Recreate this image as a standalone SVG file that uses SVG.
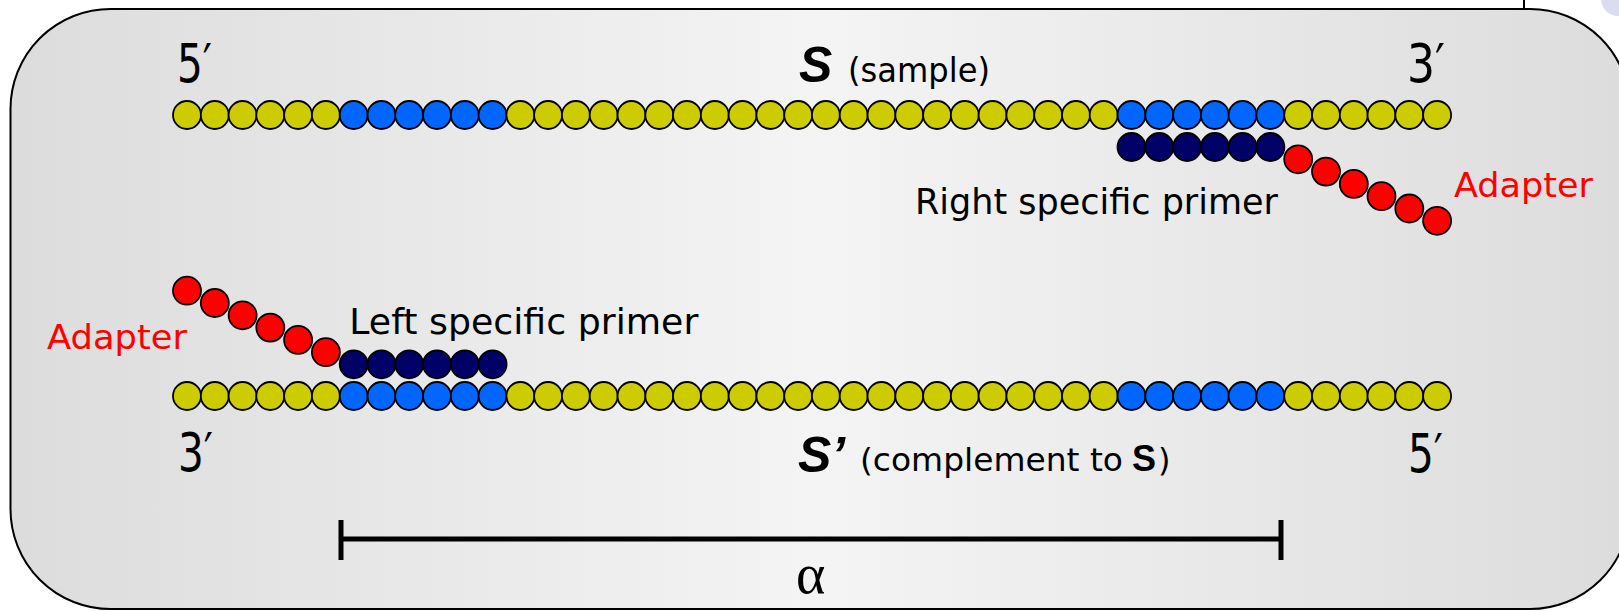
<svg xmlns="http://www.w3.org/2000/svg" width="1619" height="611" viewBox="0 0 1619 611">
<style>
.y{fill:#cccc00}.b{fill:#0066ff}.n{fill:#000066}.r{fill:#ff0000}
.comic{font-family:"DejaVu Sans","Noto Sans",sans-serif;fill:#000}
.red{fill:#ff0000}
.bi{font-family:"Liberation Sans",Arial,sans-serif;font-weight:bold;font-style:italic;fill:#000}
.end{font-family:"DejaVu Sans","Noto Sans",sans-serif;font-size:53px;fill:#000}
</style>
<defs>
<linearGradient id="bg" x1="0" y1="0" x2="1" y2="0">
<stop offset="0" stop-color="#dcdcdc"/>
<stop offset="0.5" stop-color="#f4f4f4"/>
<stop offset="1" stop-color="#dcdcdc"/>
</linearGradient>
<circle id="bd" r="14" stroke="#000" stroke-width="1.8"/>
</defs>
<rect width="1619" height="611" fill="#ffffff"/>
<g id="frame">
<line x1="1524" y1="0" x2="1524" y2="10" stroke="#000" stroke-width="2"/>
<circle cx="1618" cy="-1" r="17" fill="#dcdcf0"/>
<rect x="10.5" y="9" width="1619.5" height="600" rx="100" ry="100" fill="url(#bg)" stroke="#000" stroke-width="2"/>
</g>
<g id="strand-S">
<use href="#bd" class="y" x="187" y="115"/><use href="#bd" class="y" x="214.8" y="115"/><use href="#bd" class="y" x="242.6" y="115"/><use href="#bd" class="y" x="270.3" y="115"/><use href="#bd" class="y" x="298.1" y="115"/><use href="#bd" class="y" x="325.9" y="115"/>
<use href="#bd" class="b" x="353.7" y="115"/><use href="#bd" class="b" x="381.5" y="115"/><use href="#bd" class="b" x="409.2" y="115"/><use href="#bd" class="b" x="437" y="115"/><use href="#bd" class="b" x="464.8" y="115"/><use href="#bd" class="b" x="492.6" y="115"/>
<use href="#bd" class="y" x="520.4" y="115"/><use href="#bd" class="y" x="548.1" y="115"/><use href="#bd" class="y" x="575.9" y="115"/><use href="#bd" class="y" x="603.7" y="115"/><use href="#bd" class="y" x="631.5" y="115"/><use href="#bd" class="y" x="659.3" y="115"/><use href="#bd" class="y" x="687" y="115"/><use href="#bd" class="y" x="714.8" y="115"/><use href="#bd" class="y" x="742.6" y="115"/><use href="#bd" class="y" x="770.4" y="115"/><use href="#bd" class="y" x="798.2" y="115"/><use href="#bd" class="y" x="825.9" y="115"/><use href="#bd" class="y" x="853.7" y="115"/><use href="#bd" class="y" x="881.5" y="115"/><use href="#bd" class="y" x="909.3" y="115"/><use href="#bd" class="y" x="937.1" y="115"/><use href="#bd" class="y" x="964.8" y="115"/><use href="#bd" class="y" x="992.6" y="115"/><use href="#bd" class="y" x="1020.4" y="115"/><use href="#bd" class="y" x="1048.2" y="115"/><use href="#bd" class="y" x="1076" y="115"/><use href="#bd" class="y" x="1103.7" y="115"/>
<use href="#bd" class="b" x="1131.5" y="115"/><use href="#bd" class="b" x="1159.3" y="115"/><use href="#bd" class="b" x="1187.1" y="115"/><use href="#bd" class="b" x="1214.9" y="115"/><use href="#bd" class="b" x="1242.6" y="115"/><use href="#bd" class="b" x="1270.4" y="115"/>
<use href="#bd" class="y" x="1298.2" y="115"/><use href="#bd" class="y" x="1326" y="115"/><use href="#bd" class="y" x="1353.8" y="115"/><use href="#bd" class="y" x="1381.5" y="115"/><use href="#bd" class="y" x="1409.3" y="115"/><use href="#bd" class="y" x="1437.1" y="115"/>
</g>
<g id="strand-S-prime">
<use href="#bd" class="y" x="187" y="396"/><use href="#bd" class="y" x="214.8" y="396"/><use href="#bd" class="y" x="242.6" y="396"/><use href="#bd" class="y" x="270.3" y="396"/><use href="#bd" class="y" x="298.1" y="396"/><use href="#bd" class="y" x="325.9" y="396"/>
<use href="#bd" class="b" x="353.7" y="396"/><use href="#bd" class="b" x="381.5" y="396"/><use href="#bd" class="b" x="409.2" y="396"/><use href="#bd" class="b" x="437" y="396"/><use href="#bd" class="b" x="464.8" y="396"/><use href="#bd" class="b" x="492.6" y="396"/>
<use href="#bd" class="y" x="520.4" y="396"/><use href="#bd" class="y" x="548.1" y="396"/><use href="#bd" class="y" x="575.9" y="396"/><use href="#bd" class="y" x="603.7" y="396"/><use href="#bd" class="y" x="631.5" y="396"/><use href="#bd" class="y" x="659.3" y="396"/><use href="#bd" class="y" x="687" y="396"/><use href="#bd" class="y" x="714.8" y="396"/><use href="#bd" class="y" x="742.6" y="396"/><use href="#bd" class="y" x="770.4" y="396"/><use href="#bd" class="y" x="798.2" y="396"/><use href="#bd" class="y" x="825.9" y="396"/><use href="#bd" class="y" x="853.7" y="396"/><use href="#bd" class="y" x="881.5" y="396"/><use href="#bd" class="y" x="909.3" y="396"/><use href="#bd" class="y" x="937.1" y="396"/><use href="#bd" class="y" x="964.8" y="396"/><use href="#bd" class="y" x="992.6" y="396"/><use href="#bd" class="y" x="1020.4" y="396"/><use href="#bd" class="y" x="1048.2" y="396"/><use href="#bd" class="y" x="1076" y="396"/><use href="#bd" class="y" x="1103.7" y="396"/>
<use href="#bd" class="b" x="1131.5" y="396"/><use href="#bd" class="b" x="1159.3" y="396"/><use href="#bd" class="b" x="1187.1" y="396"/><use href="#bd" class="b" x="1214.9" y="396"/><use href="#bd" class="b" x="1242.6" y="396"/><use href="#bd" class="b" x="1270.4" y="396"/>
<use href="#bd" class="y" x="1298.2" y="396"/><use href="#bd" class="y" x="1326" y="396"/><use href="#bd" class="y" x="1353.8" y="396"/><use href="#bd" class="y" x="1381.5" y="396"/><use href="#bd" class="y" x="1409.3" y="396"/><use href="#bd" class="y" x="1437.1" y="396"/>
</g>
<g id="right-primer">
<use href="#bd" class="n" x="1131.5" y="147"/><use href="#bd" class="n" x="1159.3" y="147"/><use href="#bd" class="n" x="1187.1" y="147"/><use href="#bd" class="n" x="1214.9" y="147"/><use href="#bd" class="n" x="1242.6" y="147"/><use href="#bd" class="n" x="1270.4" y="147"/>
</g>
<g id="right-adapter">
<use href="#bd" class="r" x="1298.2" y="159.3"/><use href="#bd" class="r" x="1326" y="171.6"/><use href="#bd" class="r" x="1353.8" y="183.9"/><use href="#bd" class="r" x="1381.5" y="196.2"/><use href="#bd" class="r" x="1409.3" y="208.5"/><use href="#bd" class="r" x="1437.1" y="220.8"/>
</g>
<g id="left-primer">
<use href="#bd" class="n" x="353.7" y="364.3"/><use href="#bd" class="n" x="381.5" y="364.3"/><use href="#bd" class="n" x="409.2" y="364.3"/><use href="#bd" class="n" x="437" y="364.3"/><use href="#bd" class="n" x="464.8" y="364.3"/><use href="#bd" class="n" x="492.6" y="364.3"/>
</g>
<g id="left-adapter">
<use href="#bd" class="r" x="187" y="290.7"/><use href="#bd" class="r" x="214.8" y="303"/><use href="#bd" class="r" x="242.6" y="315.3"/><use href="#bd" class="r" x="270.3" y="327.6"/><use href="#bd" class="r" x="298.1" y="339.9"/><use href="#bd" class="r" x="325.9" y="352.2"/>
</g>
<g id="labels">
<text class="end" x="177" y="81.7" textLength="35" lengthAdjust="spacingAndGlyphs">5′</text>
<text class="end" x="1407" y="81.7" textLength="38" lengthAdjust="spacingAndGlyphs">3′</text>
<text class="end" x="178" y="470.5" textLength="35" lengthAdjust="spacingAndGlyphs">3′</text>
<text class="end" x="1408" y="471.5" textLength="35" lengthAdjust="spacingAndGlyphs">5′</text>
<text class="bi" x="799" y="82" font-size="50">S</text>
<text class="comic" x="848" y="82" font-size="34" textLength="142" lengthAdjust="spacingAndGlyphs">(sample)</text>
<text class="bi" x="798" y="471.7" font-size="50">S’</text>
<text class="comic" x="860" y="471" font-size="32" textLength="263" lengthAdjust="spacingAndGlyphs">(complement to</text>
<text x="1132" y="471" font-size="36" font-family="Liberation Sans, Arial, sans-serif" font-weight="bold" fill="#000">S</text>
<text class="comic" x="1158" y="471" font-size="32">)</text>
<text class="comic" x="915" y="214.3" font-size="35" textLength="363" lengthAdjust="spacingAndGlyphs">Right specific primer</text>
<text class="comic" x="349.3" y="334.3" font-size="35" textLength="349" lengthAdjust="spacingAndGlyphs">Left specific primer</text>
<text class="comic red" x="1454" y="197" font-size="34" textLength="139" lengthAdjust="spacingAndGlyphs">Adapter</text>
<text class="comic red" x="47" y="349" font-size="34" textLength="140" lengthAdjust="spacingAndGlyphs">Adapter</text>
</g>
<g id="alpha-span" stroke="#000" stroke-width="5">
<line x1="341" y1="539" x2="1281" y2="539"/>
<line x1="341" y1="520" x2="341" y2="560"/>
<line x1="1281" y1="520" x2="1281" y2="560"/>
<text x="796" y="593" font-size="56" font-family="Liberation Serif, Times New Roman, serif" fill="#000" stroke="none">α</text>
</g>
</svg>
